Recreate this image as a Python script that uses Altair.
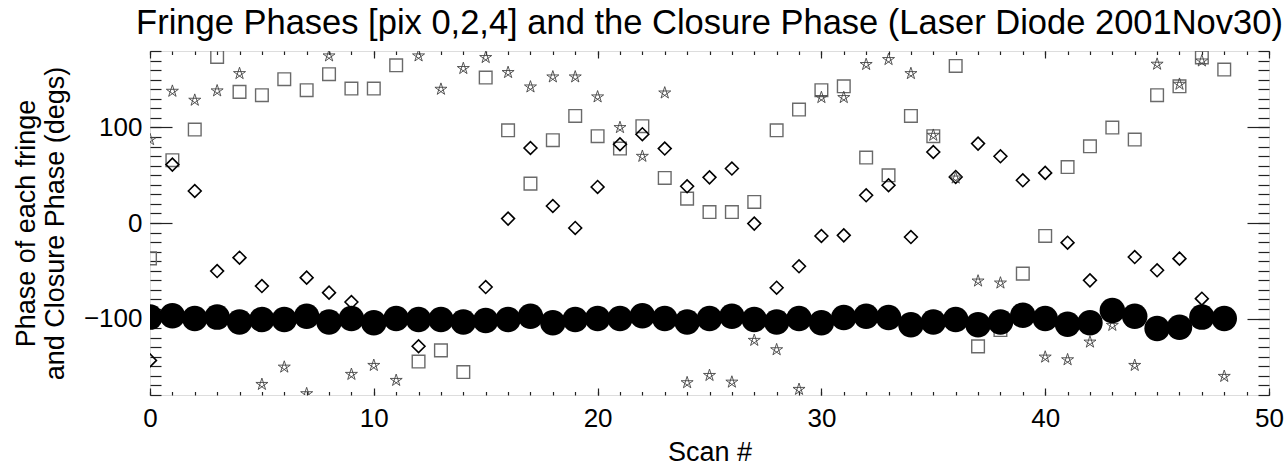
import altair as alt
import pandas as pd

# Scan numbers
scan = list(range(49))

# Fringe phase of pixel 0 (squares), degrees
phase_pix0 = [-37, 65.7, 97.8, 173.8, 137.2, 133.7, 150.5, 139, 155.7, 140.7,
              140.7, 165, -145, -133.3, -156, 152.2, 97, 41.2, 86.6, 112,
              90.8, 77.9, 101.3, 47.1, 25.5, 11.5, 11.5, 22, 97, 118.7,
              139, 143.1, 68.5, 49.9, 112, 90.8, 164.4, -129.1, -112, -53,
              -13.6, 58.6, 80.3, 99.9, 87.3, 133.7, 143.1, 173.2, 160.6]

# Fringe phase of pixel 2 (diamonds), degrees; None = not recorded
phase_pix2 = [-143.8, 61.1, 33.5, -50.3, -36.3, -66, None, -57.2, -72.9, -82.7,
              None, None, -129, None, None, -67, 4.6, 78.5, 17.8, -5.2,
              37.7, 82.4, 92.9, 77.9, 38.4, 47.8, 57, -0.6, -67.7, -45.3,
              -13.6, -12.9, 29, 39.5, -14.7, 74.3, 48.2, 83.1, 69.8, 44.7,
              52.4, -20.6, -60, None, -35.6, -49.5, -37.3, -79.2, None]

# Fringe phase of pixel 4 (stars), degrees
phase_pix4 = [87.3, 137.9, 128.5, 138.3, 156.4, -168.9, -150.8, -178.6, 174.9, -158.4,
              -149, -164.7, 174.9, 140, 161.7, 173.2, 157.5, 142.4, 152.9, 152.9,
              132, 99.9, 69.8, 136.1, -167.1, -159.5, -166.5, -122.8, -132.6, -174.1,
              131.3, 131.3, 165.9, 171.1, 156.4, 91.8, 47.1, -60.7, -62.8, None,
              -140.3, -143.1, -124.6, -107.1, -149, 166.2, 145.2, 169.6, -160.5]

# Closure phase (filled circles), degrees
closure = [-98.5, -97, -100, -98.5, -103.5, -101, -101, -97.5, -103.5, -100,
           -104.5, -100, -101, -101, -103.5, -102, -101, -97.5, -104.5, -101,
           -100, -100, -97, -100, -103.5, -100, -97.5, -101, -103.5, -100,
           -104.5, -99, -97.5, -99, -106.5, -103.5, -101, -106.5, -103.5, -96.5,
           -100, -106, -104.5, -91.5, -97.5, -110.5, -109, -98.5, -100]

x_major = [0, 10, 20, 30, 40, 50]
x_minor = list(range(0, 51))
y_major = [-100, 0, 100]
y_minor = list(range(-180, 181, 10))

FONT = "Liberation Sans"
X_DOM = [0, 50]
Y_DOM = [-180, 180]


def frame(values):
    df = pd.DataFrame({"scan": scan, "phase": values})
    return df.dropna()


def axis(orient, values, size, labels=False, title=None, **kw):
    base = dict(orient=orient, values=values, tickSize=size, offset=-size,
                domain=False, grid=False, labels=labels, tickColor="#222",
                tickWidth=1.2, title=title)
    if labels:
        base.update(labelFont=FONT, labelFontSize=26, labelColor="black",
                    labelFlush=False, labelOverlap=False, format="d")
    if title is not None:
        base.update(titleFont=FONT, titleFontSize=27, titleFontWeight="normal",
                    titleColor="black")
    base.update(kw)
    return alt.Axis(**base)


def layer(values, mark, xaxis, yaxis):
    return alt.Chart(frame(values)).mark_point(clip=True, **mark).encode(
        x=alt.X("scan:Q", scale=alt.Scale(domain=X_DOM, nice=False, zero=False), axis=xaxis),
        y=alt.Y("phase:Q", scale=alt.Scale(domain=Y_DOM, nice=False, zero=False), axis=yaxis),
    )


pentagram = "M0,-1L0.588,0.809L-0.951,-0.309L0.951,-0.309L-0.588,0.809Z"

squares = layer(
    phase_pix0,
    dict(shape="square", size=160, filled=False, stroke="#6a6a6a", strokeWidth=1.4, opacity=1),
    axis("bottom", x_major, 7, labels=True, title="Scan #", labelPadding=10, titlePadding=8),
    axis("left", y_major, 22, labels=True,
         title=["Phase of each fringe", "and Closure Phase (degs)"],
         labelPadding=8, titlePadding=14, titleLineHeight=29),
)
diamonds = layer(
    phase_pix2,
    dict(shape="diamond", size=165, filled=False, stroke="black", strokeWidth=1.6, opacity=1),
    axis("bottom", x_minor, 3.5),
    axis("left", y_minor, 11),
)
stars = layer(
    phase_pix4,
    dict(shape=pentagram, size=160, filled=False, stroke="#444444", strokeWidth=0.9, opacity=1),
    axis("top", x_major, 7),
    axis("right", y_major, 22),
)
circles = layer(
    closure,
    dict(shape="circle", size=650, filled=True, fill="black", stroke="black", strokeWidth=0, opacity=1),
    axis("top", x_minor, 3.5),
    axis("right", y_minor, 11),
)

chart = (
    alt.layer(squares, diamonds, stars, circles)
    .resolve_axis(x="independent", y="independent")
    .properties(
        width=1119,
        height=344,
        padding={"left": 150, "top": 51, "right": 18, "bottom": 70},
        autosize=alt.AutoSizeParams(type="none"),
        title=alt.TitleParams(
            "Fringe Phases [pix 0,2,4] and the Closure Phase (Laser Diode 2001Nov30)",
            font=FONT, fontSize=34.5, fontWeight="normal", color="black",
            anchor="middle", offset=9,
        ),
    )
    .configure_view(stroke="#222", strokeWidth=1.5)
    .configure(background="white")
)

chart.save("out.html", embed_options={"renderer": "svg", "actions": False})
